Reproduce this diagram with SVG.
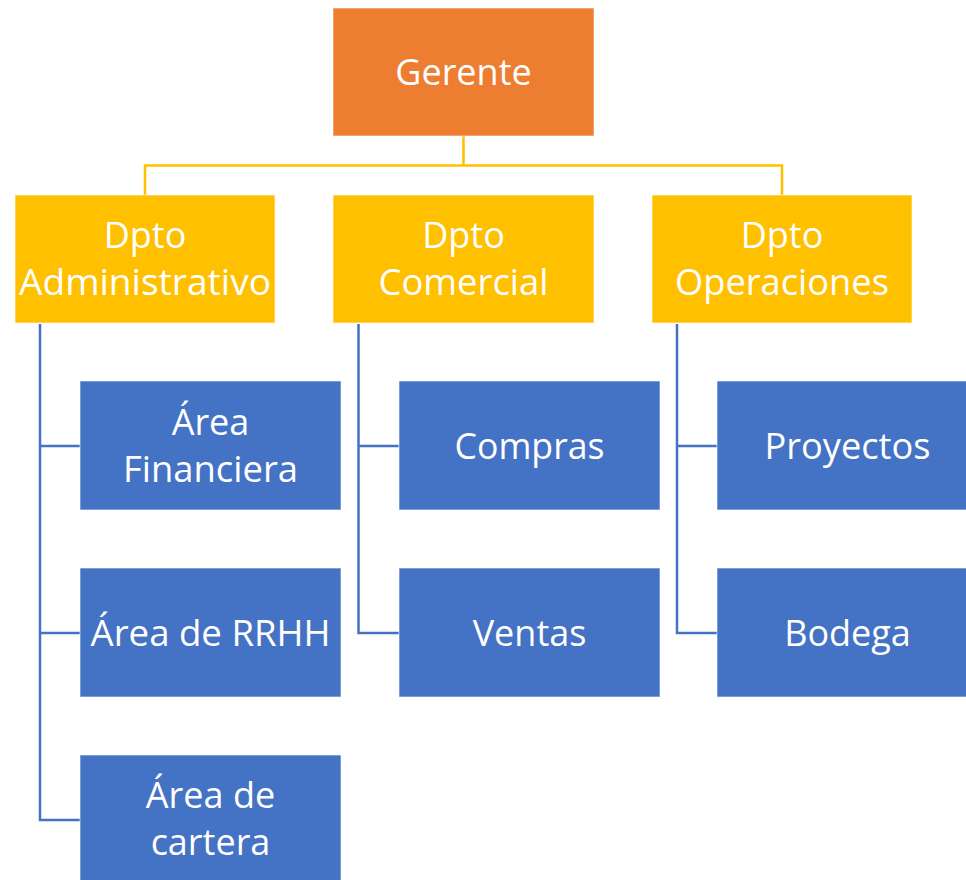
<svg xmlns="http://www.w3.org/2000/svg" width="966" height="880" viewBox="0 0 966 880">
<style>
.box{stroke:#ffffff;stroke-opacity:0.6;stroke-width:1}
.top{fill:#ED7D31}
.dept{fill:#FFC000}
.area{fill:#4472C4}
.t{font-family:"Open Sans","Noto Sans",sans-serif;font-size:36px;fill:#ffffff;text-anchor:middle}
.yl{fill:none;stroke:#FFC000;stroke-width:2.5}
.bl{fill:none;stroke:#4472C4;stroke-width:2.5}
</style>
<rect width="966" height="880" fill="#ffffff"/>
<g id="connectors">
<path class="yl" d="M463.5 136 V165.5 M145 195 V165.5 H782 V195"/>
<path class="bl" d="M40 324 V820 H80 M40 446 H80 M40 633 H80"/>
<path class="bl" d="M358.5 324 V633 H399 M358.5 446 H399"/>
<path class="bl" d="M677 324 V633 H717 M677 446 H717"/>
</g>
<g id="gerente"><rect class="box top" x="333" y="8" width="261" height="128"/><text class="t" x="463.5" y="85">Gerente</text></g>
<g id="dpto-admin"><rect class="box dept" x="15" y="195" width="260" height="128"/><text class="t" x="145" y="248">Dpto</text><text class="t" x="145" y="295" textLength="252" lengthAdjust="spacingAndGlyphs">Administrativo</text></g>
<g id="dpto-comercial"><rect class="box dept" x="333" y="195" width="261" height="128"/><text class="t" x="463.5" y="248">Dpto</text><text class="t" x="463.5" y="295" textLength="170" lengthAdjust="spacingAndGlyphs">Comercial</text></g>
<g id="dpto-operaciones"><rect class="box dept" x="652" y="195" width="260" height="128"/><text class="t" x="782" y="248">Dpto</text><text class="t" x="782" y="295" textLength="214" lengthAdjust="spacingAndGlyphs">Operaciones</text></g>
<g id="area-financiera"><rect class="box area" x="80" y="381" width="261" height="129"/><text class="t" x="210.5" y="435">Área</text><text class="t" x="210.5" y="482" textLength="175" lengthAdjust="spacingAndGlyphs">Financiera</text></g>
<g id="area-rrhh"><rect class="box area" x="80" y="568" width="261" height="129"/><text class="t" x="210.5" y="646" textLength="240" lengthAdjust="spacingAndGlyphs">Área de RRHH</text></g>
<g id="area-cartera"><rect class="box area" x="80" y="755" width="261" height="140"/><text class="t" x="210.5" y="808">Área de</text><text class="t" x="210.5" y="855">cartera</text></g>
<g id="compras"><rect class="box area" x="399" y="381" width="261" height="129"/><text class="t" x="529.5" y="459" textLength="150" lengthAdjust="spacingAndGlyphs">Compras</text></g>
<g id="ventas"><rect class="box area" x="399" y="568" width="261" height="129"/><text class="t" x="529.5" y="646">Ventas</text></g>
<g id="proyectos"><rect class="box area" x="717" y="381" width="261" height="129"/><text class="t" x="847.5" y="459" textLength="166" lengthAdjust="spacingAndGlyphs">Proyectos</text></g>
<g id="bodega"><rect class="box area" x="717" y="568" width="261" height="129"/><text class="t" x="847.5" y="646">Bodega</text></g>
</svg>
